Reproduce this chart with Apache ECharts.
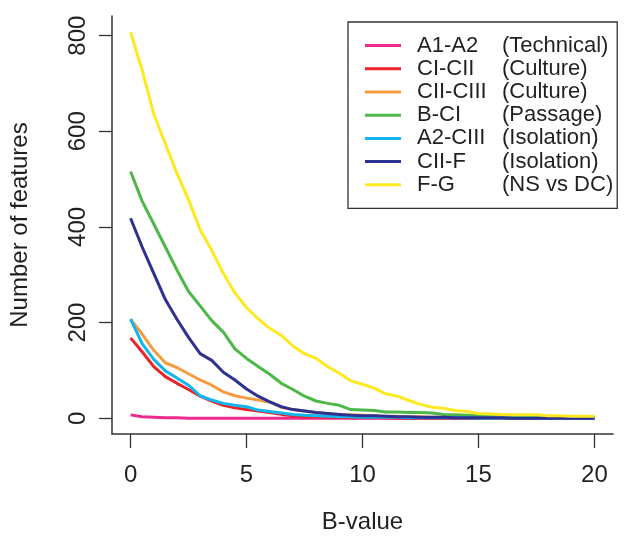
<!DOCTYPE html>
<html>
<head>
<meta charset="utf-8">
<script src="https://cdn.jsdelivr.net/npm/echarts@6/dist/echarts.min.js"></script>
<style>
  html, body { margin: 0; padding: 0; background: #fff; }
  #chart { width: 626px; height: 539px; }
</style>
</head>
<body>
<div id="chart"></div>
<script>
// B-value steps on the x axis
const bValues = [0, 0.5, 1, 1.5, 2, 2.5, 3, 3.5, 4, 4.5, 5, 5.5, 6, 6.5, 7, 7.5, 8, 8.5, 9, 9.5,
  10, 10.5, 11, 11.5, 12, 12.5, 13, 13.5, 14, 14.5, 15, 15.5, 16, 16.5, 17, 17.5, 18, 18.5, 19, 19.5, 20];

// number of features per comparison
const a1A2 = [7, 3, 2, 1, 1, 0, 0, 0, 0, 0, 0, 0, 0, 0, 0, 0, 0, 0, 0, 0,
  0, 0, 0, 0, 0, 0, 0, 0, 0, 0, 0, 0, 0, 0, 0, 0, 0, 0, 0, 0, 0];
const ciCii = [168, 139, 108, 87, 73, 60, 46, 36, 27, 22, 18, 15, 12, 8, 5, 3, 3, 2, 2, 1,
  1, 1, 1, 0, 0, 0, 0, 0, 0, 0, 0, 0, 0, 0, 0, 0, 0, 0, 0, 0, 0];
const ciiCiii = [207, 176, 142, 116, 106, 93, 80, 69, 55, 47, 42, 38, 34, 23, 18, 15, 12, 10, 8, 7,
  6, 5, 4, 4, 3, 3, 2, 2, 2, 1, 1, 1, 1, 1, 1, 1, 1, 0, 0, 0, 0];
const bCi = [516, 454, 406, 358, 310, 265, 235, 204, 180, 145, 125, 108, 92, 73, 60, 46, 36, 31, 27, 18,
  17, 16, 13, 13, 12, 12, 11, 8, 7, 6, 5, 4, 4, 3, 3, 3, 3, 3, 2, 2, 2];
const a2Ciii = [207, 156, 123, 99, 84, 69, 47, 38, 31, 27, 24, 17, 14, 11, 8, 6, 5, 4, 3, 3,
  2, 2, 2, 2, 1, 1, 1, 1, 1, 1, 0, 0, 0, 0, 0, 0, 0, 0, 0, 0, 0];
const ciiF = [418, 358, 303, 248, 207, 169, 135, 121, 96, 80, 61, 46, 34, 24, 18, 15, 12, 10, 8, 6,
  5, 5, 4, 3, 3, 2, 2, 2, 1, 1, 1, 1, 1, 0, 0, 0, 0, 0, 0, 0, 0];
const fG = [807, 728, 636, 574, 512, 457, 394, 351, 303, 262, 231, 208, 188, 173, 151, 135, 125, 108, 94, 78,
  71, 63, 51, 46, 37, 29, 23, 21, 16, 14, 10, 9, 8, 7, 7, 7, 5, 5, 4, 4, 4];

const seriesNames = ['A1-A2', 'CI-CII', 'CII-CIII', 'B-CI', 'A2-CIII', 'CII-F', 'F-G'];
const seriesTypes = ['(Technical)', '(Culture)', '(Culture)', '(Passage)', '(Isolation)', '(Isolation)', '(NS vs DC)'];
const seriesColors = ['#ec2a8e', '#ec2227', '#f59c40', '#4db848', '#12b6ee', '#2e3192', '#fde91f'];
const seriesValues = [a1A2, ciCii, ciiCiii, bCi, a2Ciii, ciiF, fG];

const xTicks = [0, 5, 10, 15, 20];
const yTicks = [0, 200, 400, 600, 800];

const FONT = '"Liberation Sans", Arial, Helvetica, sans-serif';
const INK = '#231f20';

const chart = echarts.init(document.getElementById('chart'), null, { renderer: 'canvas' });

const series = seriesNames.map((name, i) => ({
  name: name,
  type: 'line',
  data: bValues.map((b, k) => [b, seriesValues[i][k]]),
  showSymbol: false,
  symbol: 'none',
  lineStyle: { width: 3, color: seriesColors[i] },
  itemStyle: { color: seriesColors[i] },
  z: 2
}));

const typeByName = {};
seriesNames.forEach((n, i) => { typeByName[n] = seriesTypes[i]; });

chart.setOption({
  animation: false,
  backgroundColor: '#fff',
  textStyle: { fontFamily: FONT, color: INK },
  grid: { left: 111, top: 16, right: 13, bottom: 99.5, containLabel: false },
  legend: {
    orient: 'vertical',
    left: 348,
    top: 22,
    data: seriesNames,
    icon: 'rect',
    itemWidth: 36,
    itemHeight: 3,
    itemGap: 0,
    padding: [12, 4, 12, 17],
    borderColor: '#333',
    borderWidth: 1.3,
    selectedMode: false,
    formatter: name => `{a|${name}}{b|${typeByName[name]}}`,
    textStyle: {
      fontFamily: FONT,
      fontSize: 22,
      color: INK,
      lineHeight: 23.2,
      rich: {
        a: { fontFamily: FONT, fontSize: 22, color: INK, width: 85, padding: [0, 0, 0, 11], lineHeight: 23.2 },
        b: { fontFamily: FONT, fontSize: 22, color: INK, lineHeight: 23.2 }
      }
    }
  },
  xAxis: {
    type: 'value',
    min: -0.8,
    max: 20.8,
    name: 'B-value',
    nameLocation: 'middle',
    nameGap: 76,
    nameTextStyle: { fontFamily: FONT, fontSize: 24, color: INK },
    splitLine: { show: false },
    axisLine: { show: true, onZero: false, lineStyle: { color: '#333', width: 1.5 } },
    axisTick: { show: true, length: 14, customValues: xTicks, lineStyle: { color: '#333', width: 1.3 } },
    axisLabel: { customValues: xTicks, margin: 29, fontFamily: FONT, fontSize: 24, color: INK }
  },
  yAxis: {
    type: 'value',
    min: -33,
    max: 841,
    name: 'Number of features',
    nameLocation: 'middle',
    nameRotate: 90,
    nameGap: 80,
    nameTextStyle: { fontFamily: FONT, fontSize: 24, color: INK },
    splitLine: { show: false },
    axisLine: { show: true, onZero: false, lineStyle: { color: '#333', width: 1.5 } },
    axisTick: { show: true, length: 13, customValues: yTicks, lineStyle: { color: '#333', width: 1.3 } },
    axisLabel: { customValues: yTicks, rotate: 90, margin: 22, fontFamily: FONT, fontSize: 24, color: INK }
  },
  series: series
});
</script>
</body>
</html>
